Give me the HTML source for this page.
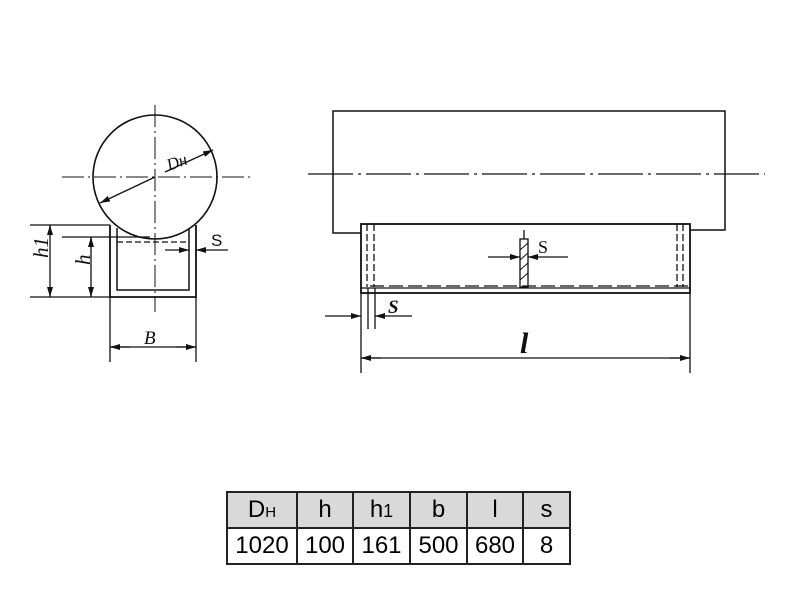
<!DOCTYPE html>
<html><head><style>
body{margin:0;background:#fff;width:800px;height:600px;position:relative;overflow:hidden}
svg{position:absolute;left:0;top:0}
table{position:absolute;left:226px;top:491px;border-collapse:collapse;font-family:"Liberation Sans",sans-serif;font-size:24px}
td{border:2px solid #222;text-align:center;padding:0;height:34px}
tr.h td{background:#d9d9d9}
</style></head><body>
<svg width="800" height="600" viewBox="0 0 800 600" fill="none" stroke="#111" stroke-width="1.3">
<defs><marker id="a" markerWidth="10" markerHeight="6" refX="10" refY="3" orient="auto" markerUnits="userSpaceOnUse"><path d="M0,0L10,3L0,6z" fill="#111" stroke="none"/></marker></defs>
<circle cx="155" cy="177" r="62" stroke-width="1.6"/>
<line x1="62" y1="177" x2="250" y2="177" stroke-dasharray="22,4,2,4" stroke-width="1"/>
<line x1="155" y1="105" x2="155" y2="312" stroke-dasharray="22,4,2,4" stroke-width="1"/>
<line x1="155" y1="177" x2="100" y2="203" marker-end="url(#a)"/>
<line x1="165" y1="172" x2="213" y2="150" marker-end="url(#a)"/>
<text x="166" y="170" font-family="Liberation Serif" font-style="italic" font-size="17" fill="#111" stroke="none" transform="rotate(-20 170 162)">Dн</text>
<path d="M110,225 V297 H196 V225" stroke-width="1.8"/>
<path d="M117,228 V290 H189 V228" stroke-width="1.5"/>
<line x1="117" y1="242" x2="189" y2="242" stroke-dasharray="6,3"/>
<line x1="30" y1="225" x2="110" y2="225"/>
<line x1="30" y1="297" x2="110" y2="297"/>
<line x1="62" y1="237" x2="150" y2="237"/>
<line x1="50" y1="225" x2="50" y2="297"/>
<line x1="50" y1="235" x2="50" y2="225" marker-end="url(#a)"/>
<line x1="50" y1="287" x2="50" y2="297" marker-end="url(#a)"/>
<line x1="91" y1="237" x2="91" y2="297"/>
<line x1="91" y1="247" x2="91" y2="237" marker-end="url(#a)"/>
<line x1="91" y1="287" x2="91" y2="297" marker-end="url(#a)"/>
<text x="44" y="270" font-family="Liberation Serif" font-style="italic" font-size="21" fill="#111" stroke="none" transform="rotate(-90 40 262)">h1</text>
<text x="85" y="276" font-family="Liberation Serif" font-style="italic" font-size="21" fill="#111" stroke="none" transform="rotate(-90 82 268)">h</text>
<line x1="165" y1="250" x2="189" y2="250" marker-end="url(#a)"/>
<line x1="228" y1="250" x2="196" y2="250" marker-end="url(#a)"/>
<text x="211" y="246" font-family="Liberation Sans" font-size="17" fill="#111" stroke="none">S</text>
<line x1="110" y1="297" x2="110" y2="362"/>
<line x1="196" y1="297" x2="196" y2="362"/>
<line x1="110" y1="347" x2="196" y2="347"/>
<line x1="130" y1="347" x2="110" y2="347" marker-end="url(#a)"/>
<line x1="176" y1="347" x2="196" y2="347" marker-end="url(#a)"/>
<text x="144" y="344" font-family="Liberation Serif" font-style="italic" font-size="19" fill="#111" stroke="none">B</text>
<path d="M361,233 H333 V111 H725 V230 H690" stroke-width="1.5"/>
<line x1="308" y1="174" x2="765" y2="174" stroke-dasharray="45,5,3,5" stroke-width="1.2"/>
<rect x="361" y="224" width="329" height="69" stroke-width="1.8"/>
<line x1="361" y1="288" x2="690" y2="288" stroke-width="1.3"/>
<line x1="370" y1="286" x2="690" y2="286" stroke-dasharray="14,5"/>
<line x1="367" y1="224" x2="367" y2="287" stroke-dasharray="7,3"/>
<line x1="374" y1="224" x2="374" y2="287" stroke-dasharray="7,3"/>
<line x1="677" y1="224" x2="677" y2="287" stroke-dasharray="7,3"/>
<line x1="683" y1="224" x2="683" y2="287" stroke-dasharray="7,3"/>
<line x1="368" y1="288" x2="368" y2="329"/>
<line x1="375" y1="288" x2="375" y2="329"/>
<rect x="520" y="239" width="8" height="48" stroke-width="1.3"/>
<path d="M520,250 L528,243 M520,260 L528,253 M520,270 L528,263 M520,280 L528,273" stroke-width="1"/>
<line x1="524" y1="230" x2="524" y2="239"/>
<line x1="488" y1="257" x2="520" y2="257" marker-end="url(#a)"/>
<line x1="568" y1="257" x2="528" y2="257" marker-end="url(#a)"/>
<text x="538" y="253" font-family="Liberation Serif" font-size="18" fill="#111" stroke="none">S</text>
<line x1="325" y1="316" x2="361" y2="316" marker-end="url(#a)"/>
<line x1="412" y1="316" x2="375" y2="316" marker-end="url(#a)"/>
<text x="388" y="313" font-family="Liberation Serif" font-style="italic" font-weight="bold" font-size="19" fill="#111" stroke="none">S</text>
<line x1="361" y1="293" x2="361" y2="373"/>
<line x1="690" y1="293" x2="690" y2="373"/>
<line x1="361" y1="358" x2="690" y2="358"/>
<line x1="381" y1="358" x2="361" y2="358" marker-end="url(#a)"/>
<line x1="670" y1="358" x2="690" y2="358" marker-end="url(#a)"/>
<text x="520" y="353" font-family="Liberation Serif" font-style="italic" font-weight="bold" font-size="30" fill="#111" stroke="none">l</text>
</svg>
<table>
<tr class="h"><td style="width:68px">D<span style="font-size:15px">Н</span></td><td style="width:54px">h</td><td style="width:55px">h<span style="font-size:18px">1</span></td><td style="width:55px">b</td><td style="width:54px">l</td><td style="width:45px">s</td></tr>
<tr><td>1020</td><td>100</td><td>161</td><td>500</td><td>680</td><td>8</td></tr>
</table>
</body></html>
